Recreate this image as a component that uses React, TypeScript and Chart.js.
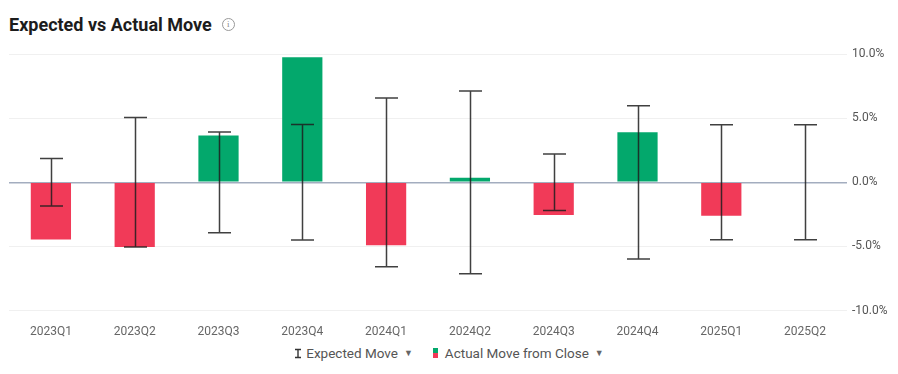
import React, { useEffect, useRef } from "react";
import { Chart, registerables } from "chart.js";

Chart.register(...registerables);

const categories = ["2023Q1", "2023Q2", "2023Q3", "2023Q4", "2024Q1", "2024Q2", "2024Q3", "2024Q4", "2025Q1", "2025Q2"];
const actualMove: (number | null)[] = [-4.45, -5.05, 3.65, 9.75, -4.9, 0.35, -2.55, 3.9, -2.6, null];
const expectedMove = [1.85, 5.05, 3.93, 4.5, 6.58, 7.12, 2.2, 5.97, 4.48, 4.48];
const yTicks = [-10, -5, 0, 5, 10];

const GREEN = "#03a86c";
const RED = "#f13a58";

const errorBarPlugin = {
  id: "errorBars",
  afterDatasetsDraw(chart: any) {
    const { ctx, scales } = chart;
    const xs = scales.x;
    const ys = scales.y;
    ctx.save();
    ctx.strokeStyle = "rgba(30,30,30,0.85)";
    ctx.lineWidth = 1.5;
    const cap = 11.5;
    expectedMove.forEach((e, i) => {
      const x = Math.round(xs.getPixelForValue(i)) + 0.5;
      const yTop = ys.getPixelForValue(e);
      const yBot = ys.getPixelForValue(-e);
      ctx.beginPath();
      ctx.moveTo(x, yTop);
      ctx.lineTo(x, yBot);
      ctx.moveTo(x - cap, yTop);
      ctx.lineTo(x + cap, yTop);
      ctx.moveTo(x - cap, yBot);
      ctx.lineTo(x + cap, yBot);
      ctx.stroke();
    });
    ctx.restore();
  },
};

export default function App() {
  const ref = useRef<HTMLCanvasElement>(null);
  useEffect(() => {
    if (!ref.current) return;
    const chart = new Chart(ref.current, {
      type: "bar",
      data: {
        labels: categories,
        datasets: [
          {
            label: "Actual Move from Close",
            data: actualMove as any,
            backgroundColor: actualMove.map((v) => ((v ?? 0) >= 0 ? GREEN : RED)),
            borderWidth: 0,
            categoryPercentage: 0.8,
            barPercentage: 0.6,
          },
        ],
      },
      options: {
        animation: false,
        responsive: true,
        maintainAspectRatio: false,
        layout: { padding: { left: 1, right: 0, top: 14, bottom: 0 } },
        plugins: { legend: { display: false }, tooltip: { enabled: false }, title: { display: false } },
        scales: {
          x: {
            grid: { display: false },
            border: { display: false },
            ticks: { color: "#666", font: { family: "Roboto", size: 12 }, padding: 6 },
          },
          y: {
            position: "right",
            min: -10,
            max: 10,
            afterBuildTicks: (axis: any) => {
              axis.ticks = yTicks.map((v) => ({ value: v }));
            },
            afterFit: (axis: any) => {
              axis.width = 43;
            },
            border: { display: false },
            grid: {
              color: (c: any) => (c.tick && c.tick.value === 0 ? "#a3adbf" : "#f0f0f0"),
              lineWidth: (c: any) => (c.tick && c.tick.value === 0 ? 1.5 : 1),
              drawTicks: false,
            },
            ticks: {
              color: "#555",
              font: { family: "Roboto", size: 12 },
              padding: 5,
              callback: (v: any) => Number(v).toFixed(1) + "%",
            },
          },
        },
      },
      plugins: [errorBarPlugin],
    });
    return () => chart.destroy();
  }, []);

  return (
    <div style={{ width: 882, fontFamily: "Roboto, sans-serif" }}>
      <div style={{ height: 32, display: "flex", alignItems: "center", paddingLeft: 1, marginTop: 0 }}>
        <span style={{ fontSize: 18, fontWeight: 700, color: "#1c1c1c" }}>Expected vs Actual Move</span>
        <span
          style={{
            marginLeft: 10,
            width: 11,
            height: 11,
            borderRadius: "50%",
            border: "1px solid #999",
            color: "#888",
            fontSize: 9,
            lineHeight: "11px",
            textAlign: "center",
            display: "inline-block",
            fontFamily: "serif",
          }}
        >
          i
        </span>
      </div>
      <div style={{ position: "relative", height: 305 }}>
        <canvas ref={ref} />
      </div>
      <div
        style={{
          display: "flex",
          justifyContent: "center",
          alignItems: "center",
          fontSize: 13.5,
          color: "#555",
          marginTop: 0,
          paddingLeft: 0,
        }}
      >
        <svg width="8" height="11" style={{ marginRight: 4 }}>
          <path d="M1 1.5H7M4 1.5V9.5M1 9.5H7" stroke="#333" strokeWidth="1.4" fill="none" />
        </svg>
        <span>Expected Move</span>
        <span style={{ fontSize: 9, color: "#666", marginLeft: 6 }}>▼</span>
        <span style={{ display: "inline-flex", flexDirection: "column", marginLeft: 20, marginRight: 7 }}>
          <span style={{ width: 5, height: 5, background: GREEN }} />
          <span style={{ width: 5, height: 5, background: RED }} />
        </span>
        <span>Actual Move from Close</span>
        <span style={{ fontSize: 9, color: "#666", marginLeft: 6 }}>▼</span>
      </div>
    </div>
  );
}
